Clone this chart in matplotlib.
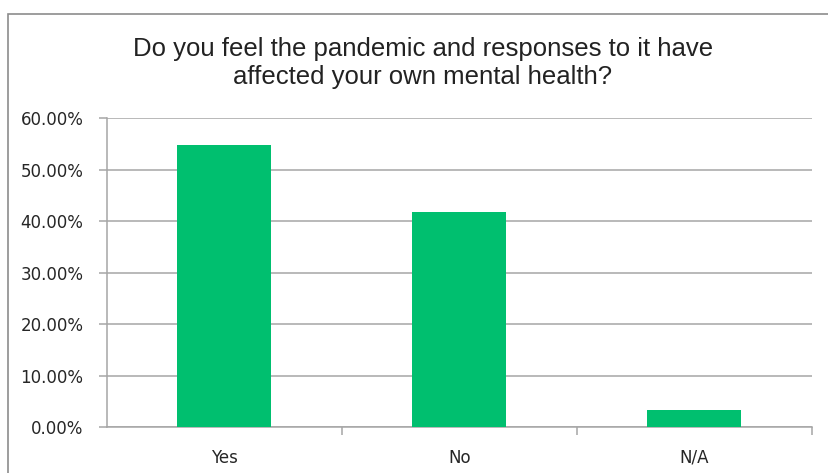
import matplotlib
matplotlib.use("Agg")
import matplotlib.pyplot as plt
from matplotlib.patches import Rectangle
from matplotlib.ticker import FuncFormatter, MultipleLocator

categories = ["Yes", "No", "N/A"]
values = [54.8, 41.8, 3.3]
title = "Do you feel the pandemic and responses to it have\naffected your own mental health?"

W, H = 829, 473
fig = plt.figure(figsize=(W / 100, H / 100), dpi=100)
fig.patch.set_facecolor("white")

# outer chart border
fig.patches.append(Rectangle((8 / W, -0.05), (W + 20) / W, (H - 14) / H + 0.05,
                             transform=fig.transFigure, fill=False,
                             edgecolor="#8c8c8c", linewidth=1.2))

ax = fig.add_axes([107 / W, (H - 427) / H, 705 / W, (427 - 118) / H])
x = list(range(len(categories)))
ax.bar(x, values, width=0.4, color="#00bf6f", zorder=3)
ax.set_xlim(-0.5, len(categories) - 0.5)
ax.set_ylim(0, 60)
ax.yaxis.set_major_locator(MultipleLocator(10))
ax.yaxis.set_major_formatter(FuncFormatter(lambda v, p: f"{v:.2f}%"))
ax.grid(axis="y", color="#a6a6a6", linewidth=1.1, zorder=0)
for s in ["top", "right"]:
    ax.spines[s].set_visible(False)
for s in ["left", "bottom"]:
    ax.spines[s].set_color("#a6a6a6")
    ax.spines[s].set_linewidth(1.1)
ax.set_xticks(x)
ax.set_xticklabels([])
for xi, lab in zip(x, categories):
    ax.text(xi, -6.9, lab, ha="center", va="baseline", fontsize=12,
            family="DejaVu Sans", color="#262626")
ax.tick_params(axis="x", length=0)
ax.set_xticks([0.5, 1.5, 2.5], minor=True)
ax.tick_params(axis="x", which="minor", length=6, color="#a6a6a6", width=1.1)
ax.tick_params(axis="y", length=6, color="#a6a6a6", width=1.1, labelsize=12,
               labelcolor="#262626", pad=11)

fig.text(423 / W, 1 - 63 / H, title, ha="center", va="center",
         fontsize=18.5, family="Liberation Sans", color="#222222", linespacing=1.17)

fig.savefig("out.png", dpi=100)
